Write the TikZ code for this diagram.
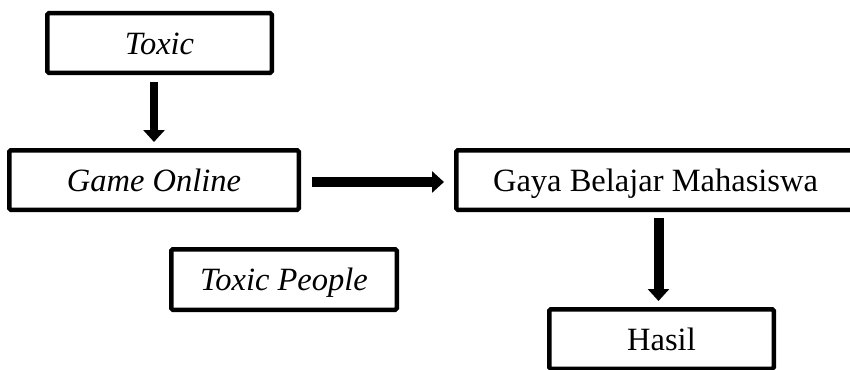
\documentclass[tikz,border=0pt]{standalone}
\usepackage{fontspec}
\setmainfont{Liberation Serif}
\usetikzlibrary{arrows.meta}
\begin{document}
\begin{tikzpicture}[x=1pt,y=-1pt,
  box/.style={draw=black, line width=4.5pt, rounded corners=1.5pt, inner sep=0pt,
    text height=22pt, text depth=0pt, font=\fontsize{32.5}{37}\selectfont, fill=white},
  arr/.style={line width=9pt, -{Triangle[width=21pt,length=12pt]}}]
\useasboundingbox (0,0) rectangle (850,369);
\clip (0,0) rectangle (850,369);
\node[box, minimum width=224.5pt, minimum height=59.5pt] (toxic) at (159.5,43) {\itshape Toxic};
\node[box, minimum width=289.5pt, minimum height=59.5pt] (game) at (154,180) {\itshape Game Online};
\node[box, minimum width=398.5pt, minimum height=59.5pt] (gaya) at (655.5,180) {Gaya Belajar Mahasiswa};
\node[box, minimum width=225.5pt, minimum height=60.5pt] (people) at (284,279.5) {\itshape Toxic People};
\node[box, minimum width=224.5pt, minimum height=59.5pt] (hasil) at (661.5,339) {Hasil};
\draw[arr, line width=8pt, shorten <=7pt, shorten >=6pt]
  ([xshift=-5.5pt]toxic.south) -- ([xshift=-5.5pt]toxic.south |- game.north);
\draw[arr, line width=10pt, shorten <=11pt, shorten >=10pt]
  ([yshift=-2pt]game.east) -- ([yshift=-2pt]game.east -| gaya.west);
\draw[arr, line width=10pt, shorten <=6pt, shorten >=6pt]
  ([xshift=3pt]gaya.south) -- ([xshift=3pt]gaya.south |- hasil.north);
\end{tikzpicture}
\end{document}
